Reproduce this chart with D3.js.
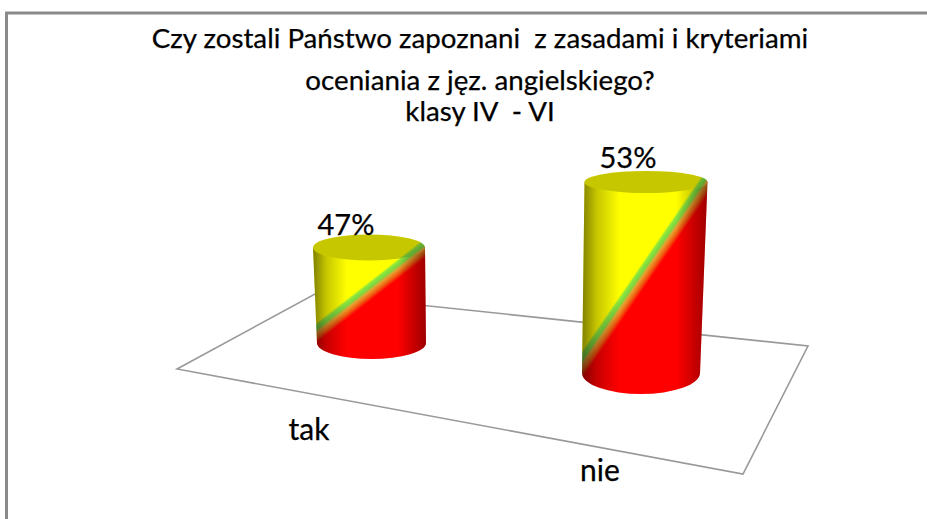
<!DOCTYPE html>
<html><head><meta charset="utf-8">
<script src="https://cdn.jsdelivr.net/npm/d3@7"></script>
<style>html,body{margin:0;padding:0;background:#fff}svg{display:block}text{font-family:Lato,"Open Sans",sans-serif;fill:#000;stroke:#000;stroke-width:.25px}</style>
</head><body><svg id="c" width="927" height="519"></svg>
<script>
const categories = ["tak", "nie"];
const values = [47, 53];
const valueLabels = ["47%", "53%"];
const titleLines = ["Czy zostali Państwo zapoznani  z zasadami i kryteriami", "oceniania z jęz. angielskiego?", "klasy IV  - VI"];
const floorX = [177, 315, 808, 743];
const floorY = [369, 294, 346, 474];

const W = 927, H = 519;
const svg = d3.select("#c");
const defs = svg.append("defs");

// hidden axis of the original starts at 41 %
const h = d3.scaleLinear().domain([41, 53]).range([0, 191]);
const baseX = d3.scalePoint().domain(categories).range([371.5, 641]);
const baseY = d3.scalePoint().domain(categories).range([343, 373]);
const baseRx = d3.scalePoint().domain(categories).range([54.5, 59]);
const baseRy = d3.scalePoint().domain(categories).range([16, 21]);
const topX = d3.scalePoint().domain(categories).range([369, 646]);
const topRx = d3.scalePoint().domain(categories).range([56, 61.5]);
const topRy = d3.scalePoint().domain(categories).range([13, 11]);
const labelX = d3.scalePoint().domain(categories).range([309, 600]);
const labelY = d3.scalePoint().domain(categories).range([440, 481]);

// frame
svg.append("path").attr("d", `M6.5,${H} V13 H${W}`).attr("fill", "none").attr("stroke", "#8a8a8a").attr("stroke-width", 3);

// floor
svg.append("path")
  .attr("d", d3.line()(floorX.map((x, i) => [x, floorY[i]])) + "Z")
  .attr("fill", "#fff").attr("stroke", "#999").attr("stroke-width", 1.6);

// title
svg.append("g").selectAll("text").data(titleLines).join("text")
  .attr("x", 480).attr("y", (d, i) => [48, 90, 121][i])
  .attr("text-anchor", "middle").attr("font-size", 27.7)
  .style("white-space", "pre").text(d => d);

// edge shading
const shade = defs.append("linearGradient").attr("id", "shade");
[[0, "#000", .5], [.12, "#000", .22], [.3, "#000", 0], [.75, "#000", 0], [1, "#000", .38]].forEach(s =>
  shade.append("stop").attr("offset", s[0]).attr("stop-color", s[1]).attr("stop-opacity", s[2]));

categories.forEach((c, i) => {
  const v = values[i], bx = baseX(c), by = baseY(c), brx = baseRx(c), bry = baseRy(c);
  const tx = topX(c), ty = by - h(v), trx = topRx(c), tryy = topRy(c);
  const g = svg.append("g");

  // diagonal colour band running from the top right of the cap to the bottom left of the body
  const p0 = [tx + trx - 4, ty - 1], p1 = [bx - brx + 1, by - 16];
  const dx = p0[0] - p1[0], dy = p1[1] - p0[1], len = Math.hypot(dx, dy);
  const nx = dy / len, ny = dx / len, mx = (p0[0] + p1[0]) / 2, my = (p0[1] + p1[1]) / 2, span = 30;
  const grad = defs.append("linearGradient").attr("id", "band" + i)
    .attr("gradientUnits", "userSpaceOnUse")
    .attr("x1", mx - nx * span).attr("y1", my - ny * span)
    .attr("x2", mx + nx * span).attr("y2", my + ny * span);
  const off = d => (d + span) / (2 * span);
  [[-4.5, "#ffff00"], [-2.5, "#8fe83c"], [1, "#7ad840"], [3.5, "#e8a030"], [7.5, "#f06010"], [11.5, "#ff0000"]].forEach(s =>
    grad.append("stop").attr("offset", off(s[0])).attr("stop-color", s[1]));

  const body = `M${tx - trx},${ty} L${bx - brx},${by} A${brx},${bry} 0 0 0 ${bx + brx},${by} L${tx + trx},${ty} Z`;
  g.append("path").attr("d", body).attr("fill", `url(#band${i})`);
  g.append("path").attr("d", body).attr("fill", "url(#shade)");

  // cap
  g.append("ellipse").attr("cx", tx).attr("cy", ty).attr("rx", trx).attr("ry", tryy).attr("fill", `url(#band${i})`);
  g.append("ellipse").attr("cx", tx).attr("cy", ty).attr("rx", trx).attr("ry", tryy).attr("fill", "#000").attr("fill-opacity", .22);

  svg.append("text").attr("x", i ? 628 : 346).attr("y", ty - tryy + (i ? -3 : 0))
    .attr("text-anchor", "middle").attr("font-size", 29).text(valueLabels[i]);
  svg.append("text").attr("x", labelX(c)).attr("y", labelY(c))
    .attr("text-anchor", "middle").attr("font-size", 30).text(c);
});
</script></body></html>
